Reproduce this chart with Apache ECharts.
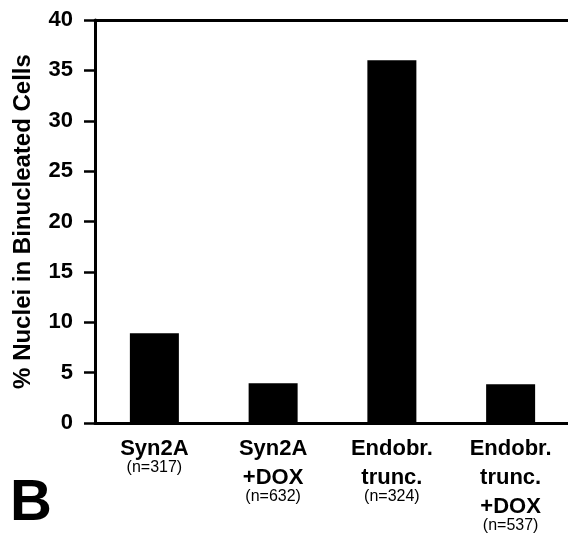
<!DOCTYPE html>
<html>
<head>
<meta charset="utf-8">
<script src="https://cdn.jsdelivr.net/npm/echarts@6/dist/echarts.min.js"></script>
<style>
html,body{margin:0;padding:0;background:#fff;}
#c{width:568px;height:539px;}
</style>
</head>
<body>
<div id="c"></div>
<script>
const categories = ['Syn2A', 'Syn2A\n+DOX', 'Endobr.\ntrunc.', 'Endobr.\ntrunc.\n+DOX'];
const counts = ['(n=317)', '(n=632)', '(n=324)', '(n=537)'];
const values = [8.9, 3.95, 36.0, 3.85];
const yTicks = [0, 5, 10, 15, 20, 25, 30, 35, 40];
const yName = '% Nuclei in Binucleated Cells';
const panelLetter = 'B';

const font = 'Liberation Sans, Arial, Helvetica, sans-serif';
const chart = echarts.init(document.getElementById('c'));
const labelMap = {};
categories.forEach((c, i) => {
  labelMap[c] = c.split('\n').map(s => '{b|' + s + '}').join('\n') + '\n{n|' + counts[i] + '}';
});

chart.setOption({
  backgroundColor: '#fff',
  animation: false,
  grid: { left: 95, width: 475, top: 20, bottom: 116, outerBoundsMode: 'none', containLabel: false },
  xAxis: [{
    type: 'category',
    data: categories,
    axisLine: { lineStyle: { color: '#000', width: 3 } },
    axisTick: { show: false },
    axisLabel: {
      interval: 0,
      margin: 11,
      verticalAlign: 'top',
      formatter: v => labelMap[v],
      rich: {
        b: { fontFamily: font, fontWeight: 'bold', fontSize: 22, lineHeight: 29, color: '#000' },
        n: { fontFamily: font, fontSize: 16, lineHeight: 10, color: '#000' }
      }
    }
  }, {
    type: 'category',
    data: categories,
    position: 'top',
    axisLine: { lineStyle: { color: '#000', width: 3 } },
    axisTick: { show: false },
    axisLabel: { show: false }
  }],
  yAxis: {
    type: 'value',
    min: yTicks[0],
    max: yTicks[yTicks.length - 1],
    interval: yTicks[1] - yTicks[0],
    name: yName,
    nameLocation: 'middle',
    nameGap: 60,
    nameTextStyle: { fontFamily: font, fontWeight: 'bold', fontSize: 24, color: '#000' },
    axisLine: { show: true, lineStyle: { color: '#000', width: 3 } },
    axisTick: { show: true, length: 11, lineStyle: { color: '#000', width: 2.5 } },
    splitLine: { show: false },
    axisLabel: { margin: 22, fontFamily: font, fontWeight: 'bold', fontSize: 22, color: '#000' }
  },
  series: [{
    type: 'bar',
    data: values,
    barWidth: 49,
    itemStyle: { color: '#000' }
  }],
  graphic: [{
    type: 'text',
    left: 10,
    top: 475,
    style: { text: panelLetter, font: 'bold 58px ' + font, fill: '#000' }
  }]
});
</script>
</body>
</html>
